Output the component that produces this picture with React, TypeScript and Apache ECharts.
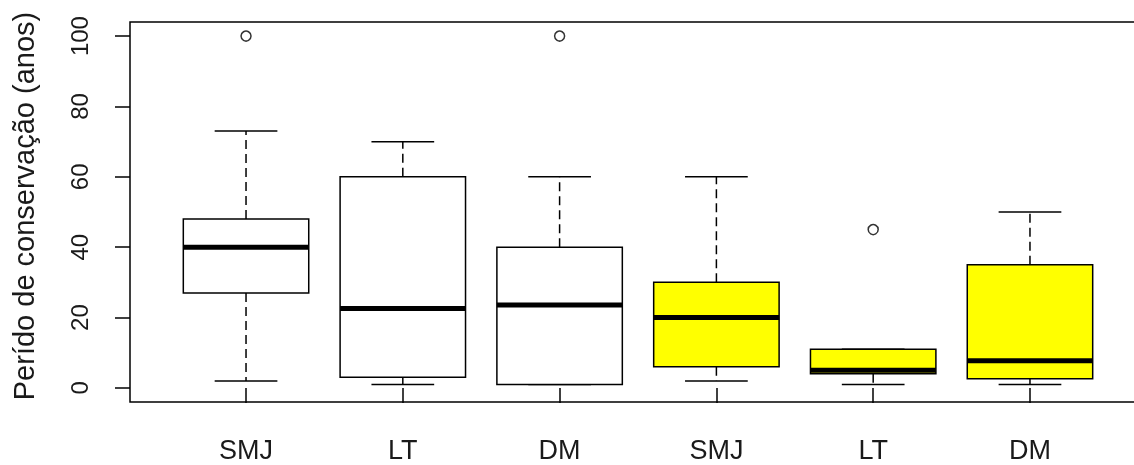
import React, { useEffect, useRef } from "react";
import * as echarts from "echarts";

const categories = ["SMJ", "LT", "DM", "SMJ", "LT", "DM"];
const whiskerLow = [2, 1, 1, 2, 1, 1];
const q1 = [27, 3, 1, 6, 4, 2.6];
const median = [40, 22.6, 23.6, 20, 5, 7.7];
const q3 = [48, 60, 40, 30, 11, 35];
const whiskerHigh = [73, 70, 60, 60, 11, 50];
const boxFills = ["#ffffff", "#ffffff", "#ffffff", "#ffff00", "#ffff00", "#ffff00"];
const outlierPos = [1, 3, 5];
const outlierVal = [100, 100, 45];
const yTicks = [0, 20, 40, 60, 80, 100];
const yTitle = "Perído de conservação (anos)";

export default function App() {
  const ref = useRef<HTMLDivElement>(null);
  useEffect(() => {
    if (!ref.current) return;
    const chart = echarts.init(ref.current, undefined, { renderer: "svg" });
    const boxData = categories.map((_, i) => [i + 1, whiskerLow[i], q1[i], median[i], q3[i], whiskerHigh[i], i]);
    const outData = outlierPos.map((p, i) => [p, outlierVal[i]]);
    const txt = "#1a1a1a";
    const font = "Liberation Sans, Arial, sans-serif";
    chart.setOption({
      animation: false,
      grid: {
        left: 130,
        top: 22,
        width: 1016,
        bottom: 63,
        show: true,
        borderColor: "#000",
        borderWidth: 1.5,
        backgroundColor: "transparent",
      },
      xAxis: {
        type: "value",
        min: 0.26,
        max: 6.74,
        splitLine: { show: false },
        axisLine: { show: false },
        axisTick: {
          show: true,
          customValues: [1, 2, 3, 4, 5, 6],
          length: 15,
          lineStyle: { color: "#000", width: 1.5 },
        },
        axisLabel: {
          customValues: [1, 2, 3, 4, 5, 6],
          formatter: (v: number) => categories[Math.round(v) - 1] ?? "",
          fontFamily: font,
          fontSize: 27,
          color: txt,
          margin: 34,
        },
      },
      yAxis: {
        type: "value",
        min: -4,
        max: 104,
        splitLine: { show: false },
        axisLine: { show: false },
        axisTick: {
          show: true,
          customValues: yTicks,
          length: 15,
          lineStyle: { color: "#000", width: 1.5 },
        },
        axisLabel: {
          customValues: yTicks,
          rotate: 90,
          fontFamily: font,
          fontSize: 24,
          color: txt,
          margin: 39,
        },
        name: yTitle,
        nameLocation: "middle",
        nameRotate: 90,
        nameGap: 92,
        nameTextStyle: {
          fontFamily: font,
          fontSize: 29,
          color: txt,
          padding: [0, 0, 0, 12],
        },
      },
      series: [
        {
          type: "custom",
          clip: false,
          data: boxData,
          renderItem: (params: any, api: any) => {
            const x = api.value(0);
            const lo = api.value(1);
            const b1 = api.value(2);
            const md = api.value(3);
            const b3 = api.value(4);
            const hi = api.value(5);
            const idx = api.value(6);
            const pTL = api.coord([x - 0.4, b3]);
            const pBR = api.coord([x + 0.4, b1]);
            const pMdL = api.coord([x - 0.4, md]);
            const pMdR = api.coord([x + 0.4, md]);
            const pHi = api.coord([x, hi]);
            const pLo = api.coord([x, lo]);
            const pQ3 = api.coord([x, b3]);
            const pQ1 = api.coord([x, b1]);
            const capHL = api.coord([x - 0.2, hi]);
            const capHR = api.coord([x + 0.2, hi]);
            const capLL = api.coord([x - 0.2, lo]);
            const capLR = api.coord([x + 0.2, lo]);
            const dash = { stroke: "#000", lineWidth: 1.5, lineDash: [9, 5] };
            const solid = { stroke: "#000", lineWidth: 1.5 };
            return {
              type: "group",
              children: [
                { type: "line", shape: { x1: pQ3[0], y1: pQ3[1], x2: pHi[0], y2: pHi[1] }, style: dash },
                { type: "line", shape: { x1: pQ1[0], y1: pQ1[1], x2: pLo[0], y2: pLo[1] }, style: dash },
                { type: "line", shape: { x1: capHL[0], y1: capHL[1], x2: capHR[0], y2: capHR[1] }, style: solid },
                { type: "line", shape: { x1: capLL[0], y1: capLL[1], x2: capLR[0], y2: capLR[1] }, style: solid },
                {
                  type: "rect",
                  shape: { x: pTL[0], y: pTL[1], width: pBR[0] - pTL[0], height: pBR[1] - pTL[1] },
                  style: { fill: boxFills[idx], stroke: "#000", lineWidth: 1.5 },
                },
                {
                  type: "line",
                  shape: { x1: pMdL[0], y1: pMdL[1], x2: pMdR[0], y2: pMdR[1] },
                  style: { stroke: "#000", lineWidth: 5 },
                },
              ],
            };
          },
        },
        {
          type: "scatter",
          data: outData,
          symbol: "circle",
          symbolSize: 10,
          itemStyle: { color: "#ffffff", borderColor: "#000", borderWidth: 1.5 },
        },
      ],
    });
    return () => chart.dispose();
  }, []);
  return (
    <div style={{ position: "fixed", left: 0, top: 0, width: 1134, height: 465, overflow: "hidden" }}>
      <div ref={ref} style={{ width: 1160, height: 465 }} />
    </div>
  );
}
